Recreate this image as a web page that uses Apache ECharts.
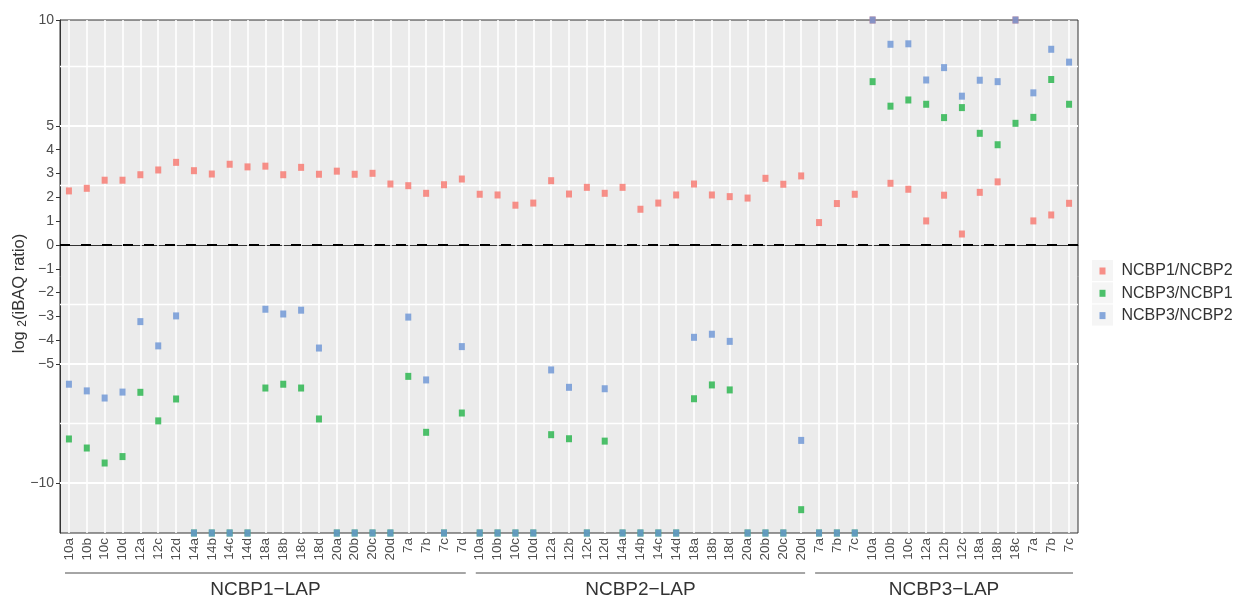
<!DOCTYPE html>
<html>
<head>
<meta charset="utf-8">
<script src="https://cdn.jsdelivr.net/npm/echarts@6/dist/echarts.min.js"></script>
<style>
html, body { margin: 0; background: #fff; }
#main { width: 1238px; height: 600px; }
</style>
</head>
<body>
<div id="main"></div>
<script>
// sample labels per pull-down
const groupNames = ['NCBP1\u2212LAP', 'NCBP2\u2212LAP', 'NCBP3\u2212LAP'];
const samplesNCBP1 = ['10a','10b','10c','10d','12a','12c','12d','14a','14b','14c','14d','18a','18b','18c','18d','20a','20b','20c','20d','7a','7b','7c','7d'];
const samplesNCBP2 = ['10a','10b','10c','10d','12a','12b','12c','12d','14a','14b','14c','14d','18a','18b','18d','20a','20b','20c','20d'];
const samplesNCBP3 = ['7a','7b','7c','10a','10b','10c','12a','12b','12c','18a','18b','18c','7a','7b','7c'];

const seriesNames = ['NCBP1/NCBP2', 'NCBP3/NCBP1', 'NCBP3/NCBP2'];
const colors = ['#F8766D', '#22B347', '#6A94D4'];

// log2 ratios, Infinity = one protein not detected (drawn at panel edge)
const ncbp1_ncbp2 = [
  2.27, 2.38, 2.72, 2.72, 2.95, 3.15, 3.47, 3.12, 2.98, 3.39, 3.28, 3.31, 2.95, 3.26, 2.97, 3.10, 2.97, 3.01, 2.56, 2.49, 2.17, 2.53, 2.77,
  2.13, 2.10, 1.67, 1.76, 2.70, 2.14, 2.42, 2.17, 2.42, 1.50, 1.76, 2.10, 2.56, 2.10, 2.03, 1.97, 2.80, 2.55, 2.90,
  0.94, 1.74, 2.13, Infinity, 2.59, 2.34, 1.01, 2.09, 0.46, 2.21, 2.65, Infinity, 1.01, 1.26, 1.75
];
const ncbp3_ncbp1 = [
  -8.15, -8.53, -9.16, -8.89, -6.19, -7.39, -6.47, -Infinity, -Infinity, -Infinity, -Infinity, -6.01, -5.85, -6.01, -7.31, -Infinity, -Infinity, -Infinity, -Infinity, -5.52, -7.87, -Infinity, -7.06,
  -Infinity, -Infinity, -Infinity, -Infinity, -7.97, -8.14, -Infinity, -8.24, -Infinity, -Infinity, -Infinity, -Infinity, -6.46, -5.88, -6.09, -Infinity, -Infinity, -Infinity, -11.12,
  -Infinity, -Infinity, -Infinity, 6.86, 5.83, 6.09, 5.91, 5.35, 5.77, 4.69, 4.21, 5.11, 5.36, 6.95, 5.91
];
const ncbp3_ncbp2 = [
  -5.85, -6.13, -6.43, -6.18, -3.22, -4.24, -2.98, -Infinity, -Infinity, -Infinity, -Infinity, -2.70, -2.90, -2.74, -4.33, -Infinity, -Infinity, -Infinity, -Infinity, -3.03, -5.67, -Infinity, -4.27,
  -Infinity, -Infinity, -Infinity, -Infinity, -5.25, -5.98, -Infinity, -6.04, -Infinity, -Infinity, -Infinity, -Infinity, -3.88, -3.75, -4.05, -Infinity, -Infinity, -Infinity, -8.21,
  -Infinity, -Infinity, -Infinity, Infinity, 8.43, 8.45, 6.93, 7.45, 6.25, 6.92, 6.86, Infinity, 6.39, 8.22, 7.68
];

// y axis
const yMin = -12.1;
const yMax = 9.45;
const yTicks = [yMax, 5, 4, 3, 2, 1, 0, -1, -2, -3, -4, -5, -10];
const majorGrid = [5, -5, -10];
const minorGrid = [7.5, 2.5, -2.5, -7.5];

const FONT = 'Liberation Sans, Arial, Helvetica, sans-serif';

const groupSamples = [samplesNCBP1, samplesNCBP2, samplesNCBP3];
const categories = groupSamples.flat();
const groupRanges = [];
let start = 0;
groupSamples.forEach(function (g, k) {
  groupRanges.push([start, start + g.length - 1, k]);
  start += g.length;
});

function clamp(v) {
  return Math.max(yMin, Math.min(yMax, v));
}

const chart = echarts.init(document.getElementById('main'), null, { renderer: 'canvas' });

const pointSeries = [ncbp1_ncbp2, ncbp3_ncbp1, ncbp3_ncbp2].map(function (vals, k) {
  return {
    name: seriesNames[k],
    type: 'scatter',
    symbol: 'rect',
    symbolSize: [6, 7],
    itemStyle: { color: colors[k] },
    z: 10 + k,
    silent: true,
    data: vals.map(function (v, i) { return [i, clamp(v)]; })
  };
});

const gridLines = [];
categories.forEach(function (c, i) {
  gridLines.push({ xAxis: i, lineStyle: { width: 1.6 } });
});
majorGrid.forEach(function (v) { gridLines.push({ yAxis: v, lineStyle: { width: 2 } }); });
minorGrid.forEach(function (v) { gridLines.push({ yAxis: v, lineStyle: { width: 1.4 } }); });

chart.setOption({
  animation: false,
  textStyle: { fontFamily: FONT },
  grid: {
    left: 60, right: 160, top: 20, bottom: 67,
    outerBoundsMode: 'none',
    containLabel: false,
    show: true, backgroundColor: '#EBEBEB', borderColor: '#333', borderWidth: 1
  },
  legend: [
    {
      data: seriesNames,
      orient: 'vertical',
      left: 1087, top: 255,
      itemWidth: 21, itemHeight: 21, itemGap: 1.3,
      icon: 'rect',
      selectedMode: false,
      itemStyle: { color: '#F2F2F2', borderWidth: 0 },
      formatter: function () { return ''; },
      z: 2
    },
    {
      data: seriesNames,
      orient: 'vertical',
      left: 1094.5, top: 255,
      itemWidth: 6, itemHeight: 7, itemGap: 0.3,
      selectedMode: false,
      textStyle: { fontSize: 16, color: '#333', lineHeight: 22, padding: [0, 0, 0, 11] },
      z: 3
    }
  ],
  xAxis: {
    type: 'category',
    data: categories,
    boundaryGap: true,
    axisLine: { lineStyle: { color: '#333', width: 1 } },
    axisTick: { alignWithLabel: true, interval: 0, length: 4, lineStyle: { color: '#333' } },
    axisLabel: { interval: 0, rotate: 90, fontSize: 13.5, color: '#4D4D4D', margin: 5 },
    splitLine: { show: false }
  },
  yAxis: {
    type: 'value',
    min: yMin, max: yMax,
    name: '{a|log }{s|2}{a|(iBAQ ratio)}',
    nameLocation: 'middle',
    nameRotate: 90,
    nameGap: 31,
    nameMoveOverlap: false,
    nameTextStyle: {
      padding: [0, 34, 0, 0],
      rich: {
        a: { fontSize: 16.5, color: '#333', lineHeight: 20, fontFamily: FONT },
        s: { fontSize: 12, color: '#333', lineHeight: 12, verticalAlign: 'bottom', fontFamily: FONT }
      }
    },
    axisLine: { show: true, lineStyle: { color: '#333', width: 1 } },
    axisTick: { show: true, length: 4, lineStyle: { color: '#333' }, customValues: yTicks },
    axisLabel: {
      fontSize: 14, color: '#4D4D4D', margin: 6,
      customValues: yTicks,
      formatter: function (v) { return v === yMax ? '10' : String(v).replace('-', '\u2212'); }
    },
    splitLine: { show: false }
  },
  series: [
    {
      type: 'line',
      data: [],
      silent: true,
      z: 3,
      markLine: {
        silent: true,
        z: 3,
        symbol: 'none',
        animation: false,
        label: { show: false },
        lineStyle: { color: '#FFFFFF', type: 'solid', opacity: 1 },
        emphasis: { disabled: true },
        data: gridLines
      }
    },
    {
      type: 'line',
      data: [],
      silent: true,
      z: 4,
      markLine: {
        silent: true,
        z: 4,
        symbol: 'none',
        animation: false,
        label: { show: false },
        lineStyle: { color: '#000', type: [10, 11], width: 2, opacity: 1 },
        emphasis: { disabled: true },
        data: [{ yAxis: 0 }]
      }
    }
  ].concat(pointSeries).concat([
    {
      type: 'custom',
      silent: true,
      clip: false,
      data: groupRanges,
      encode: { x: [0, 1] },
      renderItem: function (params, api) {
        const a = api.coord([api.value(0), yMin]);
        const b = api.coord([api.value(1), yMin]);
        const bw = api.size([1, 0])[0];
        const x1 = a[0] - bw / 2 + 5;
        const x2 = b[0] + bw / 2 - 5;
        const y = a[1] + 40;
        return {
          type: 'group',
          children: [
            { type: 'line', shape: { x1: x1, y1: y, x2: x2, y2: y }, style: { stroke: '#4D4D4D', lineWidth: 1 } },
            {
              type: 'text', x: (x1 + x2) / 2, y: y + 17,
              style: {
                text: groupNames[api.value(2)], fontSize: 19, fill: '#333', fontFamily: FONT,
                align: 'center', verticalAlign: 'middle'
              }
            }
          ]
        };
      }
    }
  ])
});
</script>
</body>
</html>
